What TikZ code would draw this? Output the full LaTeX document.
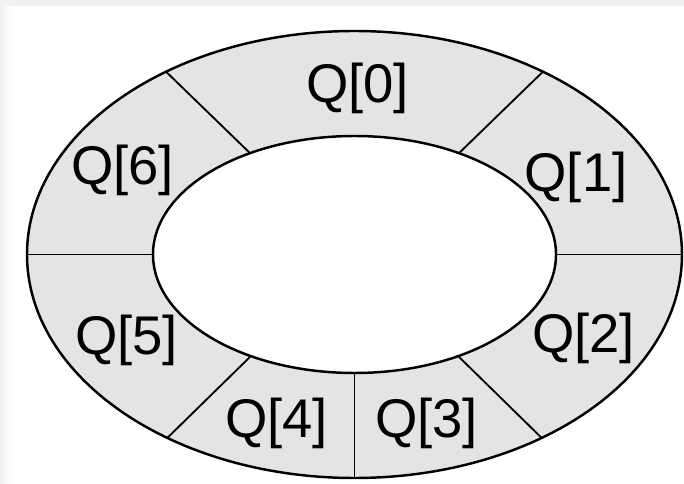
\documentclass[tikz,border=0pt]{standalone}
\usepackage{fontspec}
\setmainfont{Liberation Sans}
\usepackage{tikz}
\usepackage{xcolor}
\definecolor{ringcolor}{RGB}{228, 228, 228}
\definecolor{edgecolor}{RGB}{240, 240, 240}
\tikzstyle{ring} = [fill=ringcolor, even odd rule]
\tikzstyle{outline} = [draw=black, line width=1.4pt]
\tikzstyle{divider} = [draw=black, line width=1.05pt]
\tikzstyle{slot} = [anchor=base, inner sep=0pt, font=\fontsize{31}{36}\selectfont]

\begin{document}
\begin{tikzpicture}[x=0.02cm, y=0.02cm]
		\useasboundingbox (0,0) rectangle (684,484);
		\fill [edgecolor] (0,478) rectangle (684,484);
		\shade [left color=edgecolor, right color=white] (0,0) rectangle (10,478);

		%
		% Ring
		\coordinate (c) at (354.5,229.5);
		\fill [ring] (c) ellipse [x radius=327.5, y radius=223.5] (c) ellipse [x radius=201.5, y radius=118.5];

		% Dividers
		\begin{scope}[even odd rule]
			\clip (c) ellipse [x radius=327.5, y radius=223.5] (c) ellipse [x radius=201.5, y radius=118.5];
			\draw [divider] (c) -- ++(-400,0);
			\draw [divider] (c) -- ++(400,0);
			\draw [divider] (c) -- ++(0,-400);
			\draw [divider] (c) -- ++(-400,388);
			\draw [divider] (c) -- ++(400,388);
			\draw [divider] (c) -- ++(-400,-392);
			\draw [divider] (c) -- ++(400,-392);
		\end{scope}

		\draw [outline] (c) ellipse [x radius=327.5, y radius=223.5];
		\draw [outline] (c) ellipse [x radius=201.5, y radius=118.5];

		%
		% Slots
		\node [slot] (q0) at (357.5,381) {Q[0]};
		\node [slot] (q1) at (576,292) {Q[1]};
		\node [slot] (q2) at (583.5,131) {Q[2]};
		\node [slot] (q3) at (426.5,46) {Q[3]};
		\node [slot] (q4) at (276.5,46) {Q[4]};
		\node [slot] (q5) at (126.5,129) {Q[5]};
		\node [slot] (q6) at (122.5,299) {Q[6]};

	\end{tikzpicture}
\end{document}
